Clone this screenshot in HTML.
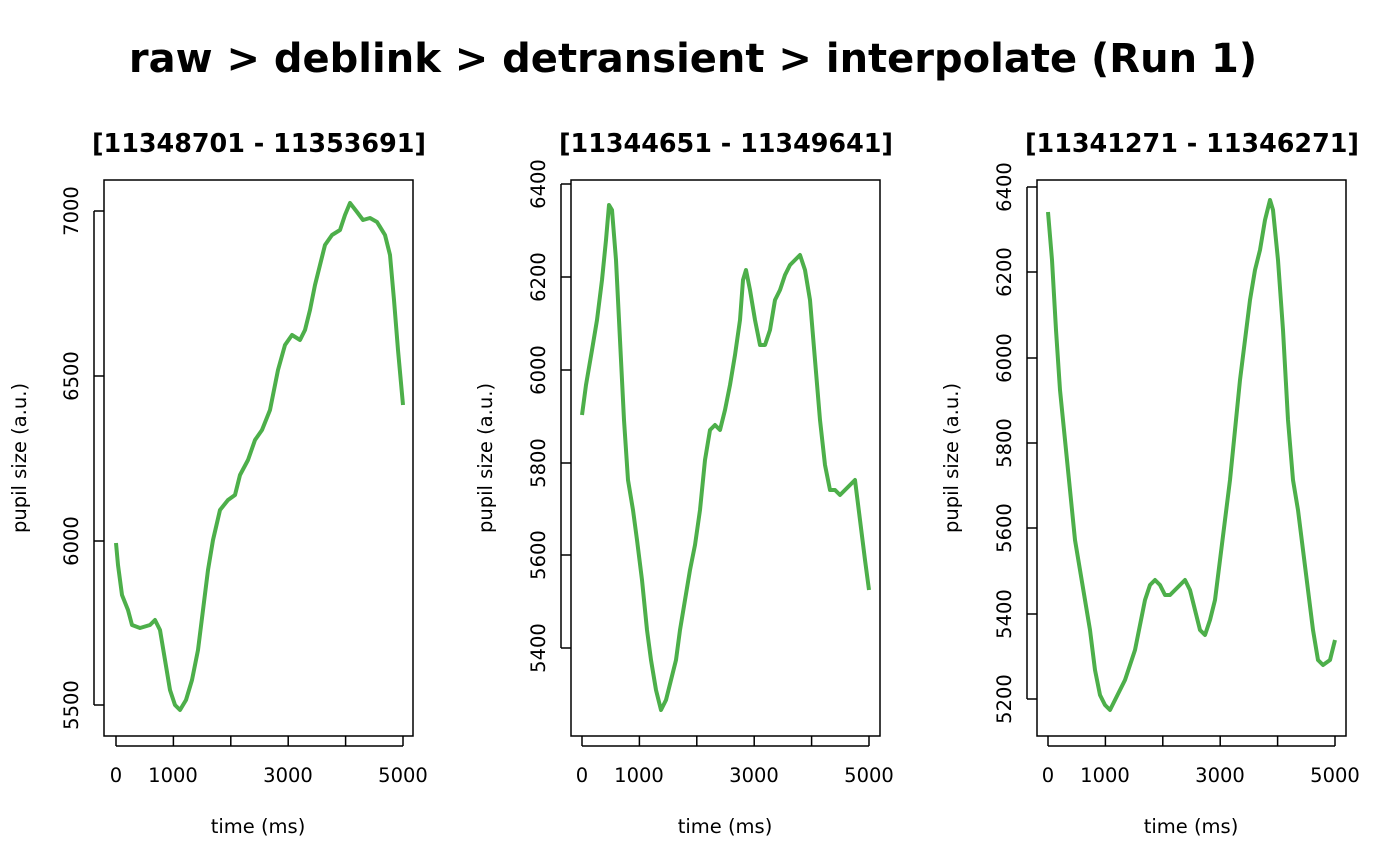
<!DOCTYPE html>
<html><head><meta charset="utf-8"><style>body{margin:0;background:#fff}svg{display:block}</style></head><body>
<svg width="1400" height="866" xmlns="http://www.w3.org/2000/svg" font-family="DejaVu Sans, sans-serif">
<text x="693" y="72" font-size="40" font-weight="bold" text-anchor="middle">raw &gt; deblink &gt; detransient &gt; interpolate (Run 1)</text>
<g font-size="25.4" font-weight="bold" text-anchor="middle">
<text x="259" y="152">[11348701 - 11353691]</text>
<text x="726" y="152">[11344651 - 11349641]</text>
<text x="1192" y="152">[11341271 - 11346271]</text>
</g>
<g fill="none" stroke="#000" stroke-width="1.5">
<rect x="104" y="180" width="309" height="556"/>
<rect x="571" y="180" width="309" height="556"/>
<rect x="1037" y="180" width="309" height="556"/>
<path d="M116 736v10M173.4 736v10M230.8 736v10M288.2 736v10M345.6 736v10M403 736v10M116 746H403"/>
<path d="M582 736v10M639.4 736v10M696.8 736v10M754.2 736v10M811.6 736v10M869 736v10M582 746H869"/>
<path d="M1048 736v10M1105.4 736v10M1162.8 736v10M1220.2 736v10M1277.6 736v10M1335 736v10M1048 746H1335"/>
<path d="M104 211h-10M104 376h-10M104 541h-10M104 705h-10M94 211V705"/>
<path d="M571 184h-10M571 277h-10M571 370h-10M571 463h-10M571 555h-10M571 648h-10M561 184V648"/>
<path d="M1037 187h-10M1037 272h-10M1037 358h-10M1037 443h-10M1037 528h-10M1037 614h-10M1037 699h-10M1027 187V699"/>
</g>
<g font-size="19.5" text-anchor="middle">
<text x="116" y="782">0</text><text x="173" y="782">1000</text><text x="288" y="782">3000</text><text x="403" y="782">5000</text>
<text x="582" y="782">0</text><text x="639" y="782">1000</text><text x="754" y="782">3000</text><text x="869" y="782">5000</text>
<text x="1048" y="782">0</text><text x="1105" y="782">1000</text><text x="1220" y="782">3000</text><text x="1335" y="782">5000</text>
<text x="258" y="833">time (ms)</text><text x="725" y="833">time (ms)</text><text x="1191" y="833">time (ms)</text>
<text transform="translate(78,211) rotate(-90)">7000</text><text transform="translate(78,376) rotate(-90)">6500</text><text transform="translate(78,541) rotate(-90)">6000</text><text transform="translate(78,705) rotate(-90)">5500</text>
<text transform="translate(545,184) rotate(-90)">6400</text><text transform="translate(545,277) rotate(-90)">6200</text><text transform="translate(545,370) rotate(-90)">6000</text><text transform="translate(545,463) rotate(-90)">5800</text><text transform="translate(545,555) rotate(-90)">5600</text><text transform="translate(545,648) rotate(-90)">5400</text>
<text transform="translate(1011,187) rotate(-90)">6400</text><text transform="translate(1011,272) rotate(-90)">6200</text><text transform="translate(1011,358) rotate(-90)">6000</text><text transform="translate(1011,443) rotate(-90)">5800</text><text transform="translate(1011,528) rotate(-90)">5600</text><text transform="translate(1011,614) rotate(-90)">5400</text><text transform="translate(1011,699) rotate(-90)">5200</text>
<text transform="translate(26,458) rotate(-90)">pupil size (a.u.)</text>
<text transform="translate(492,458) rotate(-90)">pupil size (a.u.)</text>
<text transform="translate(958,458) rotate(-90)">pupil size (a.u.)</text>
</g>
<g fill="none" stroke="#4daf4a" stroke-width="4" stroke-linejoin="round">
<polyline points="116,543 118,565 122,595 128,610 132,625 140,628 150,625 155,620 160,630 165,660 170,690 175,705 180,710 186,700 192,680 198,650 203,610 208,570 213,540 220,510 228,500 235,495 240,475 248,460 255,440 262,430 270,410 278,370 285,345 292,335 300,340 305,330 310,310 315,285 320,265 325,245 332,235 340,230 345,215 350,203 357,212 363,220 370,218 377,222 385,235 390,255 394,300 398,350 403,405"/>
<polyline points="582,415 586,385 592,350 597,320 602,280 606,240 609,205 612,210 616,260 620,340 624,420 628,480 633,510 637,540 642,580 647,630 651,660 656,690 661,710 666,700 671,680 676,660 680,630 685,600 690,570 695,545 700,510 705,460 710,430 715,425 720,430 725,410 730,385 735,355 740,320 743,280 746,270 750,290 755,320 760,345 765,345 770,330 775,300 780,290 785,275 790,265 795,260 800,255 805,270 810,300 815,360 820,420 825,465 830,490 835,490 840,495 845,490 850,485 855,480 860,520 865,560 869,590"/>
<polyline points="1048,212 1052,260 1056,330 1060,390 1065,440 1070,490 1075,540 1080,570 1085,600 1090,630 1095,670 1100,695 1105,705 1110,710 1115,700 1120,690 1125,680 1130,665 1135,650 1140,625 1145,600 1150,585 1155,580 1160,585 1165,595 1170,595 1175,590 1180,585 1185,580 1190,590 1195,610 1200,630 1205,635 1210,620 1215,600 1220,560 1225,520 1230,480 1235,430 1240,380 1245,340 1250,300 1255,270 1260,250 1265,220 1270,200 1273,210 1278,260 1283,330 1288,420 1293,480 1298,510 1303,550 1308,590 1313,630 1318,660 1323,665 1330,660 1335,640"/>
</g>
</svg>
</body></html>
